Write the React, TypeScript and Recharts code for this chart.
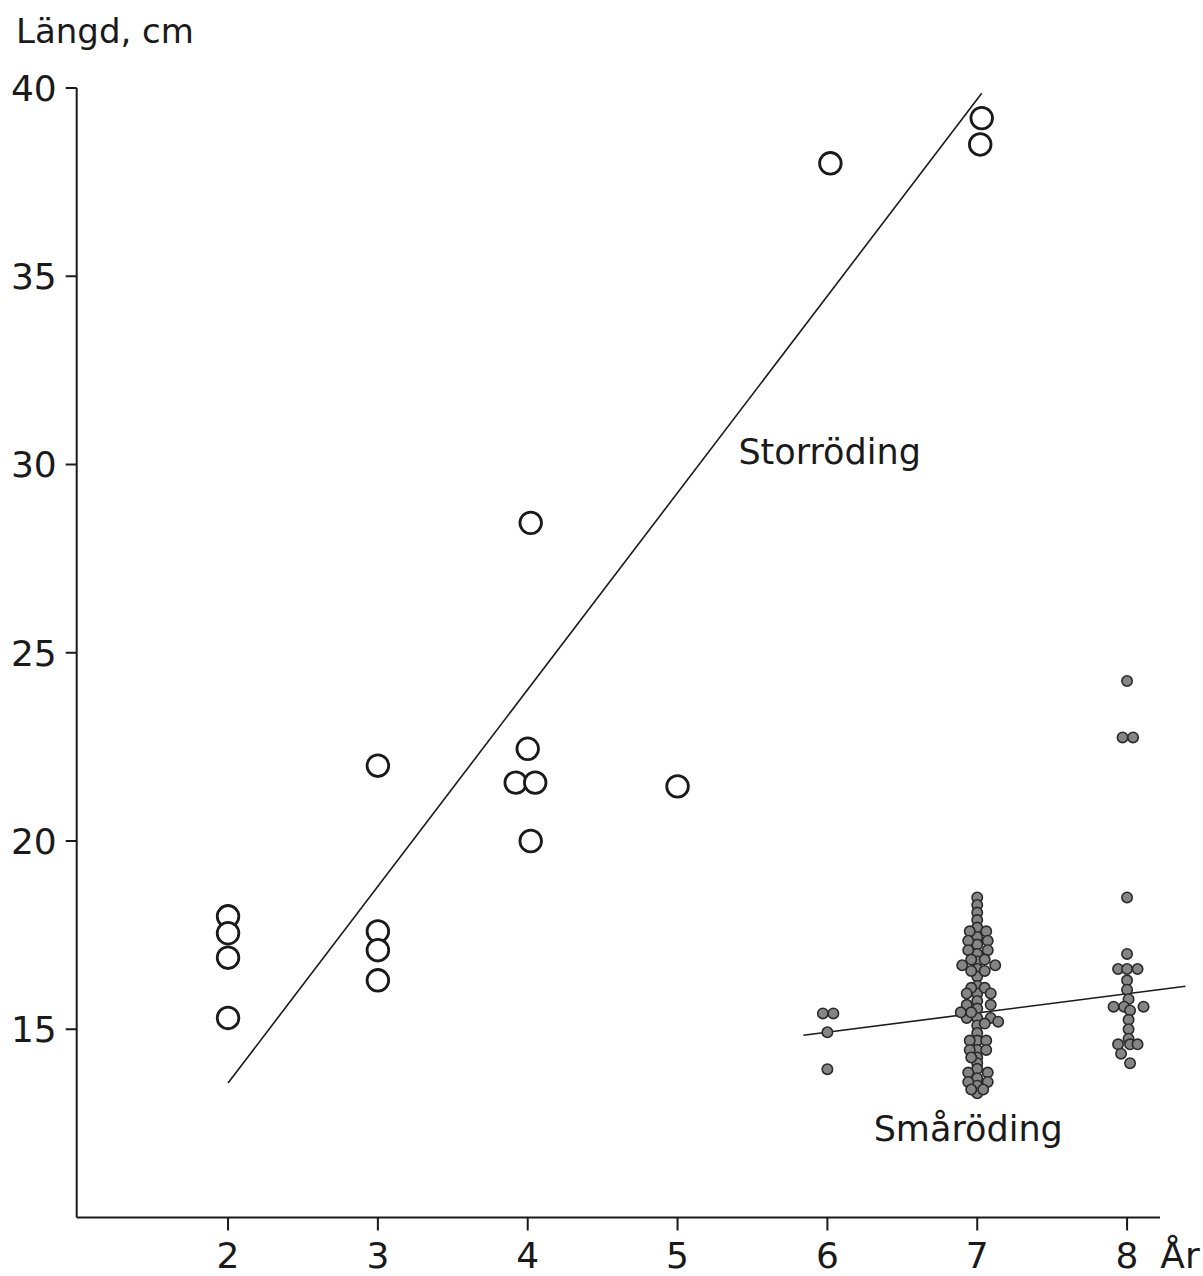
import { ScatterChart, Scatter, XAxis, YAxis, ReferenceLine, ReferenceDot } from "recharts";

// Ålder (år) på x, längd (cm) på y
const yearTicks = [2, 3, 4, 5, 6, 7, 8];
const lengthTicks = [15, 20, 25, 30, 35, 40];

// Storröding, öppna ringar [år, längd]
const storAge2 = [[2, 18.0], [2, 17.55], [2, 16.9], [2, 15.3]];
const storAge3 = [[3, 22.0], [3, 17.6], [3, 17.1], [3, 16.3]];
const storAge4 = [[4.02, 28.45], [4.0, 22.45], [3.92, 21.55], [4.05, 21.55], [4.02, 20.0]];
const storAge5 = [[5.0, 21.45]];
const storAge6 = [[6.02, 38.0]];
const storAge7 = [[7.03, 39.2], [7.02, 38.5]];

// Småröding, fyllda prickar [år, längd]
const smaAge6 = [[5.97, 15.42], [6.04, 15.42], [6.0, 14.92], [6.0, 13.94]];
const smaAge7 = [
  [7, 18.5], [7, 18.3], [7, 18.1], [7, 17.9], [7, 17.7], [7, 17.45], [7, 17.25], [7, 17.0],
  [7, 16.8], [7, 16.6], [7, 16.4], [7, 16.15], [7, 15.95], [7, 15.75], [7, 15.55], [7, 15.3],
  [7, 15.1], [7, 14.9], [7, 14.7], [7, 14.45], [7, 14.25], [7, 14.1], [7, 13.95], [7, 13.7],
  [7, 13.5], [7, 13.3],
  [6.95, 17.6], [7.06, 17.6], [6.94, 17.35], [7.07, 17.35], [6.94, 17.1], [7.07, 17.1],
  [6.96, 16.85], [7.05, 16.85], [6.9, 16.7], [7.12, 16.7], [6.96, 16.55], [7.05, 16.55],
  [6.96, 16.1], [7.05, 16.1], [6.93, 15.95], [7.09, 15.95], [6.93, 15.65], [7.09, 15.65],
  [6.93, 15.3], [7.09, 15.3], [6.89, 15.45], [7.14, 15.2], [6.96, 15.45], [7.05, 15.15],
  [6.95, 14.7], [7.06, 14.7], [6.95, 14.45], [7.06, 14.45], [6.96, 14.25],
  [6.94, 13.85], [7.07, 13.85], [6.94, 13.6], [7.07, 13.6], [6.96, 13.4], [7.04, 13.4],
];
const smaAge8 = [
  [8.0, 24.25], [7.97, 22.75], [8.04, 22.75], [8.0, 18.5], [8.0, 17.0],
  [7.94, 16.6], [8.0, 16.6], [8.07, 16.6], [8.0, 16.3], [8.0, 16.05], [8.01, 15.8],
  [7.98, 15.6], [8.02, 15.5], [7.91, 15.6], [8.11, 15.6], [8.01, 15.25], [8.01, 15.0],
  [8.01, 14.75], [7.94, 14.6], [8.02, 14.6], [8.07, 14.6], [7.96, 14.35], [8.02, 14.1],
];

// Regressionslinjer, ändpunkter [år, längd]
const storLine = [[2.0, 13.57], [7.03, 39.86]];
const smaLine = [[5.84, 14.84], [8.39, 16.14]];

const FONT = "'DejaVu Sans', sans-serif";
const INK = "#1a1a1a";

const toPoints = (rows: number[][]) => rows.map(([x, y]) => ({ x, y }));

const storData = toPoints([...storAge2, ...storAge3, ...storAge4, ...storAge5, ...storAge6, ...storAge7]);
const smaData = toPoints([...smaAge6, ...smaAge7, ...smaAge8]);

const OpenRing = (props: any) => (
  <circle cx={props.cx} cy={props.cy} r={10.8} fill="#fff" stroke={INK} strokeWidth={2.8} />
);

const SmallDot = (props: any) => (
  <circle cx={props.cx} cy={props.cy} r={5.2} fill="#858585" stroke="#2a2a2a" strokeWidth={1.6} />
);

const YearTick = (props: any) => {
  const { x, y, payload } = props;
  return (
    <g>
      <text x={x} y={y} dy="0.71em" textAnchor="middle" fontSize={36} fontFamily={FONT} fill={INK}>
        {payload.value}
      </text>
      {payload.value === 8 && (
        <text x={x + 53} y={y} dy="0.71em" textAnchor="middle" fontSize={36} fontFamily={FONT} fill={INK}>
          År
        </text>
      )}
    </g>
  );
};

export default function App() {
  return (
    <div style={{ position: "absolute", top: 0, left: 0, background: "#fff" }}>
      <ScatterChart width={1203} height={1276} margin={{ top: 88, right: 16, bottom: 0, left: 0 }}>
        <XAxis
          type="number"
          dataKey="x"
          domain={[0.99, 8.4]}
          allowDataOverflow
          ticks={yearTicks}
          axisLine={false}
          tickSize={13}
          tickMargin={12}
          tickLine={{ stroke: INK, strokeWidth: 2 }}
          tick={<YearTick />}
          height={58.5}
        />
        <YAxis
          type="number"
          dataKey="y"
          domain={[10, 40]}
          allowDataOverflow
          ticks={lengthTicks}
          width={76.7}
          tickSize={11}
          tickMargin={9}
          axisLine={{ stroke: INK, strokeWidth: 2 }}
          tickLine={{ stroke: INK, strokeWidth: 2 }}
          tick={{ fontSize: 36, fontFamily: FONT, fill: INK }}
          label={{
            content: () => (
              <text x={16} y={43} fontSize={34} fontFamily={FONT} fill={INK}>
                Längd, cm
              </text>
            ),
          }}
        />
        <ReferenceLine
          segment={[{ x: 0.99, y: 10 }, { x: 8.22, y: 10 }]}
          stroke={INK}
          strokeWidth={2}
          ifOverflow="visible"
        />
        <ReferenceLine
          segment={storLine.map(([x, y]) => ({ x, y }))}
          stroke={INK}
          strokeWidth={1.6}
        />
        <ReferenceLine
          segment={smaLine.map(([x, y]) => ({ x, y }))}
          stroke={INK}
          strokeWidth={1.6}
          ifOverflow="visible"
        />
        <Scatter data={storData} shape={<OpenRing />} isAnimationActive={false} />
        <Scatter data={smaData} shape={<SmallDot />} isAnimationActive={false} />
        <ReferenceDot
          x={6.015}
          y={30.34}
          r={0}
          fill="none"
          stroke="none"
          label={{ value: "Storröding", position: "center", fontSize: 35, fontFamily: FONT, fill: INK }}
        />
        <ReferenceDot
          x={6.94}
          y={12.36}
          r={0}
          fill="none"
          stroke="none"
          label={{ value: "Småröding", position: "center", fontSize: 35, fontFamily: FONT, fill: INK }}
        />
      </ScatterChart>
    </div>
  );
}
